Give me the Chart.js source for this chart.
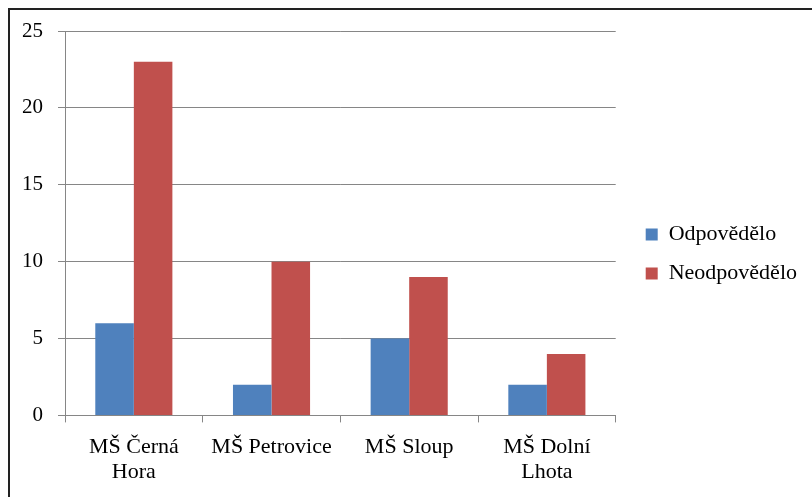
<!DOCTYPE html>
<html>
<head>
<meta charset="utf-8">
<script src="https://cdn.jsdelivr.net/npm/chart.js@4.4.0/dist/chart.umd.min.js"></script>
<style>
  html, body { margin: 0; padding: 0; background: #fff; }
  #frame { position: absolute; left: 8px; top: 8px; width: 830px; height: 520px;
           border-left: 2px solid #222; border-top: 2px solid #222; }
  #wrap { position: absolute; left: 10px; top: 10px; width: 802px; height: 487px; }
</style>
</head>
<body>
<div id="frame"></div>
<div id="wrap"><canvas id="graf"></canvas></div>
<script>
// Skoly a hodnoty
var skoly = [['MŠ Černá', 'Hora'], 'MŠ Petrovice', 'MŠ Sloup', ['MŠ Dolní', 'Lhota']];
var odpovedelo = [6, 2, 5, 2];
var neodpovedelo = [23, 10, 9, 4];
var osaY = { min: 0, max: 25, krok: 5 };

var serif = '"Liberation Serif", "Times New Roman", serif';

// posune legendu trochu doprava a nahoru
var posunLegendy = {
  id: 'posunLegendy',
  afterLayout: function(chart) {
    chart.legend.left += 13;
    chart.legend.right += 13;
    chart.legend.top -= 10;
    chart.legend.bottom -= 10;
  }
};

function bezOkraju(osa) {
  osa.paddingLeft = 0;
  osa.paddingRight = 0;
  osa.paddingTop = 0;
  osa.paddingBottom = 0;
}

new Chart(document.getElementById('graf').getContext('2d'), {
  type: 'bar',
  data: {
    labels: skoly,
    datasets: [{
        label: 'Odpovědělo',
        data: odpovedelo,
        backgroundColor: '#4F81BD'
      }, {
        label: 'Neodpovědělo',
        data: neodpovedelo,
        backgroundColor: '#C0504D'
      }]
  },
  plugins: [posunLegendy],
  options: {
    responsive: true,
    maintainAspectRatio: false,
    animation: false,
    layout: { padding: { top: 21, left: -3, right: 18, bottom: 0 } },
    datasets: { bar: { barPercentage: 1, categoryPercentage: 0.56 } },
    plugins: {
      tooltip: { enabled: false },
      legend: {
        position: 'right',
        labels: {
          boxWidth: 12,
          boxHeight: 12,
          padding: 17,
          color: '#000',
          font: { family: serif, size: 22 }
        }
      }
    },
    scales: {
      x: {
        afterFit: bezOkraju,
        border: { color: '#868686', width: 1 },
        grid: { display: true, drawOnChartArea: false, drawTicks: true, tickLength: 7, color: '#868686' },
        ticks: { color: '#000', font: { family: serif, size: 22, lineHeight: 1.15 }, padding: 12, maxRotation: 0, autoSkip: false }
      },
      y: {
        afterFit: bezOkraju,
        min: osaY.min,
        max: osaY.max,
        border: { color: '#868686', width: 1 },
        grid: { color: '#868686', tickLength: 7 },
        ticks: { stepSize: osaY.krok, color: '#000', font: { family: serif, size: 21 }, padding: 15 }
      }
    }
  }
});
</script>
</body>
</html>
